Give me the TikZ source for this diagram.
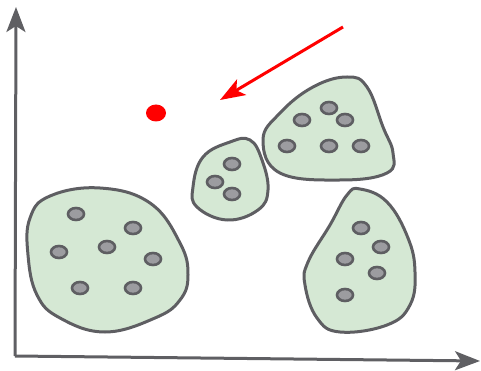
\documentclass[tikz,border=0pt]{standalone}
\usepackage{xcolor}
\usepackage{tikz}
\usetikzlibrary{calc,shapes.geometric,arrows.meta}
\definecolor{axisgrey}{HTML}{5F5F63}
\definecolor{edgegrey}{HTML}{5E5E62}
\definecolor{clustgreen}{HTML}{D5E8D4}
\definecolor{memgrey}{HTML}{9C9CA0}
\definecolor{newred}{HTML}{FF0000}
\tikzset{
  axis/.style    = {draw=axisgrey, line width=3pt,
                    -{Stealth[length=25pt, width=19pt, inset=6pt]}},
  blob/.style    = {draw=edgegrey, fill=clustgreen, line width=3pt,
                    line join=round},
  member/.style  = {ellipse, draw=edgegrey, fill=memgrey, line width=2.6pt,
                    minimum width=16pt, minimum height=12pt, inner sep=0pt},
  query/.style   = {ellipse, fill=newred, minimum width=20pt,
                    minimum height=17pt, inner sep=0pt},
  pointer/.style = {draw=newred, line width=3pt,
                    -{Stealth[length=25pt, width=18pt, inset=6pt]}},
}

\begin{document}
\begin{tikzpicture}[x=1pt, y=-1pt]
    \useasboundingbox (0,0) rectangle (481,371);

    % ---------------- axes
    \coordinate (org)  at (15,356);
    \coordinate (ytip) at (16,7);
    \coordinate (xtip) at (480,361);
    \draw[axis] (org) -- (ytip);
    \draw[axis] (org) -- (xtip);

    % ---------------- clusters
    \draw[blob] plot[smooth cycle, tension=0.7] coordinates {
      (30,218) (50,196) (100,188) (150,203) (180,243) (188,275)
      (180,300) (155,318) (105,332) (60,318) (37,295) (28,255)};
    \draw[blob] plot[smooth cycle, tension=0.7] coordinates {
      (250,140) (262,160) (268,190) (258,210) (227,220) (197,207)
      (193,187) (203,157) (230,142)};
    \draw[blob] plot[smooth cycle, tension=0.7] coordinates {
      (347,77) (367,87) (383,127) (393,153) (387,173) (340,180)
      (280,173) (263,140) (280,113) (313,87)};
    \draw[blob] plot[smooth cycle, tension=0.7] coordinates {
      (360,189) (387,202) (408,238) (415,272) (410,305) (387,325)
      (340,332) (317,318) (305,285) (308,262) (330,225) (347,195)};

    % ---------------- members
    \foreach \x/\y [count=\i] in {76/214, 59/252, 107/247, 133/228,
                                   153/259, 80/288, 133/288}
      {\node[member] (a\i) at (\x,\y) {};}
    \foreach \x/\y [count=\i] in {232/164, 215/182, 232/194}
      {\node[member] (b\i) at (\x,\y) {};}
    \foreach \x/\y [count=\i] in {329/108, 302/120, 345/120,
                                   287/146, 329/146, 361/146}
      {\node[member] (c\i) at (\x,\y) {};}
    \foreach \x/\y [count=\i] in {361/228, 381/247, 345/259,
                                   377/273, 345/295}
      {\node[member] (d\i) at (\x,\y) {};}

    % ---------------- new point
    \node[query] (new) at (156,113) {};
    \coordinate (src) at (343,27);
    \coordinate (dst) at (220,100);
    \draw[pointer] (src) -- (dst);
\end{tikzpicture}
\end{document}
